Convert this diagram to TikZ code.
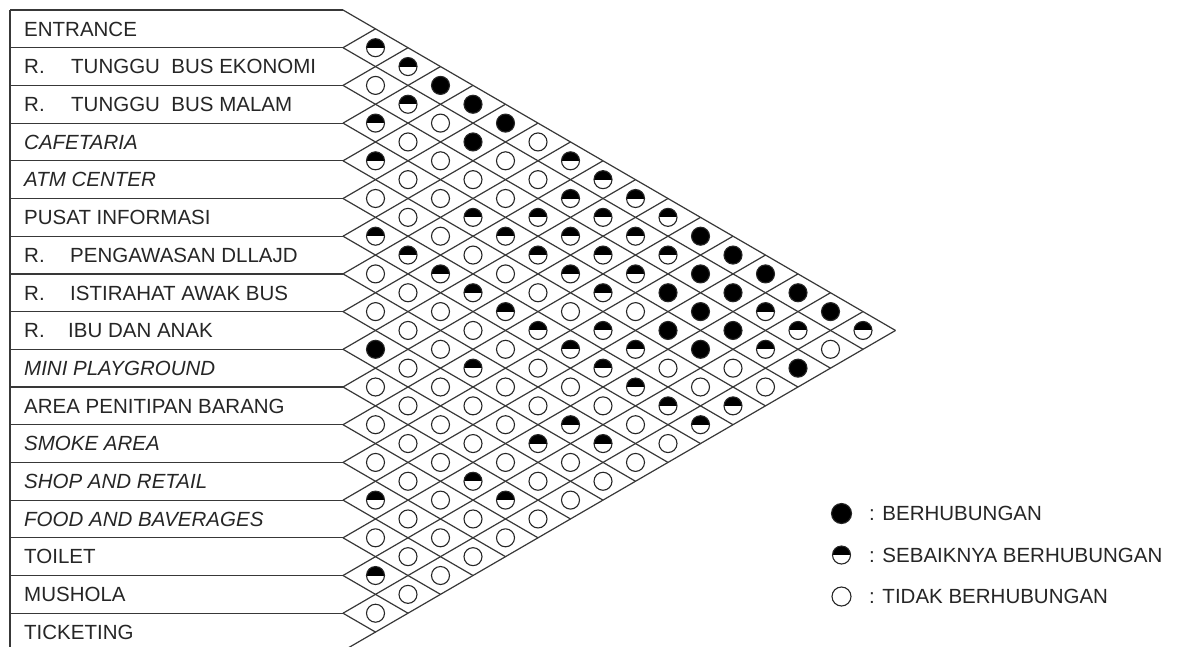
\documentclass[tikz,border=0pt]{standalone}
\usepackage{fontspec}
\setmainfont{Liberation Sans}
\begin{document}
\begin{tikzpicture}[x=1pt,y=-1pt,
  gridline/.style={line width=1.2pt, draw=black!78},
  lbl/.style={anchor=base west, inner sep=0pt, font=\fontsize{20.5}{24}\selectfont, text=black!85},
  dot/.style={circle, draw=black!85, line width=1.1pt, minimum size=18pt, inner sep=0pt, fill=white},
  stE/.style={dot},
  stF/.style={dot, fill=black},
  stH/.style={dot, path picture={\fill[black] (path picture bounding box.west) rectangle (path picture bounding box.north east);}},
]
\useasboundingbox (0,0) rectangle (1177,646);
\fill[white] (0,0) rectangle (1177,646);
\clip (0,0) rectangle (1177,646);

% row boundaries
\foreach \k in {0,...,17} {
  \coordinate (b\k) at (343,{10+37.7*\k});
  \coordinate (a\k) at (10,{10+37.7*\k});
  \draw[gridline] (a\k) -- (b\k);
  \draw[gridline] (b\k) -- ++({32.5*(17-\k)},{18.85*(17-\k)});
  \draw[gridline] (b\k) -- ++({32.5*\k},{-18.85*\k});
}
\coordinate (lb) at (10,670);
\draw[gridline] (a0) -- (lb);

% labels
\node[lbl] (l0)  at (24,{28.85+0*37.7+7.3})  {ENTRANCE};
\node[lbl] (l1)  at (24,{28.85+1*37.7+7.3})  {\makebox[47pt][l]{R.}TUNGGU\ \ BUS EKONOMI};
\node[lbl] (l2)  at (24,{28.85+2*37.7+7.3})  {\makebox[47pt][l]{R.}TUNGGU\ \ BUS MALAM};
\node[lbl] (l3)  at (24,{28.85+3*37.7+7.3})  {\itshape CAFETARIA};
\node[lbl] (l4)  at (24,{28.85+4*37.7+7.3})  {\itshape ATM CENTER};
\node[lbl] (l5)  at (24,{28.85+5*37.7+7.3})  {PUSAT INFORMASI};
\node[lbl] (l6)  at (24,{28.85+6*37.7+7.3})  {\makebox[46pt][l]{R.}PENGAWASAN DLLAJD};
\node[lbl] (l7)  at (24,{28.85+7*37.7+7.3})  {\makebox[46pt][l]{R.}ISTIRAHAT AWAK BUS};
\node[lbl] (l8)  at (24,{28.85+8*37.7+7.3})  {\makebox[44pt][l]{R.}IBU DAN ANAK};
\node[lbl] (l9)  at (24,{28.85+9*37.7+7.3})  {\itshape MINI PLAYGROUND};
\node[lbl] (l10) at (24,{28.85+10*37.7+7.3}) {AREA PENITIPAN BARANG};
\node[lbl] (l11) at (24,{28.85+11*37.7+7.3}) {\itshape SMOKE AREA};
\node[lbl] (l12) at (24,{28.85+12*37.7+7.3}) {\itshape SHOP AND RETAIL};
\node[lbl] (l13) at (24,{28.85+13*37.7+7.3}) {\itshape FOOD AND BAVERAGES};
\node[lbl] (l14) at (24,{28.85+14*37.7+7.3}) {TOILET};
\node[lbl] (l15) at (24,{28.85+15*37.7+7.3}) {MUSHOLA};
\node[lbl] (l16) at (24,{28.85+16*37.7+7.3}) {TICKETING};

% relationship circles: d/m/state
\foreach \d/\m/\s in {
1/2/H,
2/3/H,
1/4/E, 3/4/F,
2/5/H, 4/5/F,
1/6/H, 3/6/E, 5/6/F,
2/7/E, 4/7/F, 6/7/E,
1/8/H, 3/8/E, 5/8/E, 7/8/H,
2/9/E, 4/9/E, 6/9/E, 8/9/H,
1/10/E, 3/10/E, 5/10/E, 7/10/H, 9/10/H,
2/11/E, 4/11/H, 6/11/H, 8/11/H, 10/11/H,
1/12/H, 3/12/E, 5/12/H, 7/12/H, 9/12/H, 11/12/F,
2/13/H, 4/13/E, 6/13/H, 8/13/H, 10/13/H, 12/13/F,
1/14/E, 3/14/H, 5/14/E, 7/14/H, 9/14/H, 11/14/F, 13/14/F,
2/15/E, 4/15/H, 6/15/E, 8/15/H, 10/15/F, 12/15/F, 14/15/F,
1/16/E, 3/16/E, 5/16/H, 7/16/E, 9/16/E, 11/16/F, 13/16/H, 15/16/F,
2/17/E, 4/17/E, 6/17/H, 8/17/H, 10/17/F, 12/17/F, 14/17/H, 16/17/H,
1/18/F, 3/18/E, 5/18/E, 7/18/H, 9/18/H, 11/18/F, 13/18/H, 15/18/E,
2/19/E, 4/19/H, 6/19/E, 8/19/H, 10/19/E, 12/19/E, 14/19/F,
1/20/E, 3/20/E, 5/20/E, 7/20/E, 9/20/H, 11/20/E, 13/20/E,
2/21/E, 4/21/E, 6/21/E, 8/21/E, 10/21/H, 12/21/H,
1/22/E, 3/22/E, 5/22/E, 7/22/H, 9/22/E, 11/22/H,
2/23/E, 4/23/E, 6/23/H, 8/23/H, 10/23/E,
1/24/E, 3/24/E, 5/24/E, 7/24/E, 9/24/E,
2/25/E, 4/25/H, 6/25/E, 8/25/E,
1/26/H, 3/26/E, 5/26/H, 7/26/E,
2/27/E, 4/27/E, 6/27/E,
1/28/E, 3/28/E, 5/28/E,
2/29/E, 4/29/E,
1/30/H, 3/30/E,
2/31/E,
1/32/E} {
  \node[st\s] (c\d-\m) at ({343+32.5*\d},{10+18.85*\m}) {};
}

% legend
\node[stF, minimum size=20pt] (kf) at (841.5,513.5) {};
\node[stH, minimum size=18pt] (kh) at (841.5,555) {};
\node[stE, minimum size=19pt] (ke) at (841.5,596.5) {};
\node[lbl] (tf) at (869,{513.5+7.3}) {: BERHUBUNGAN};
\node[lbl] (th) at (869,{555+7.3}) {: SEBAIKNYA BERHUBUNGAN};
\node[lbl] (te) at (869,{596.5+7.3}) {: TIDAK BERHUBUNGAN};
\end{tikzpicture}
\end{document}
